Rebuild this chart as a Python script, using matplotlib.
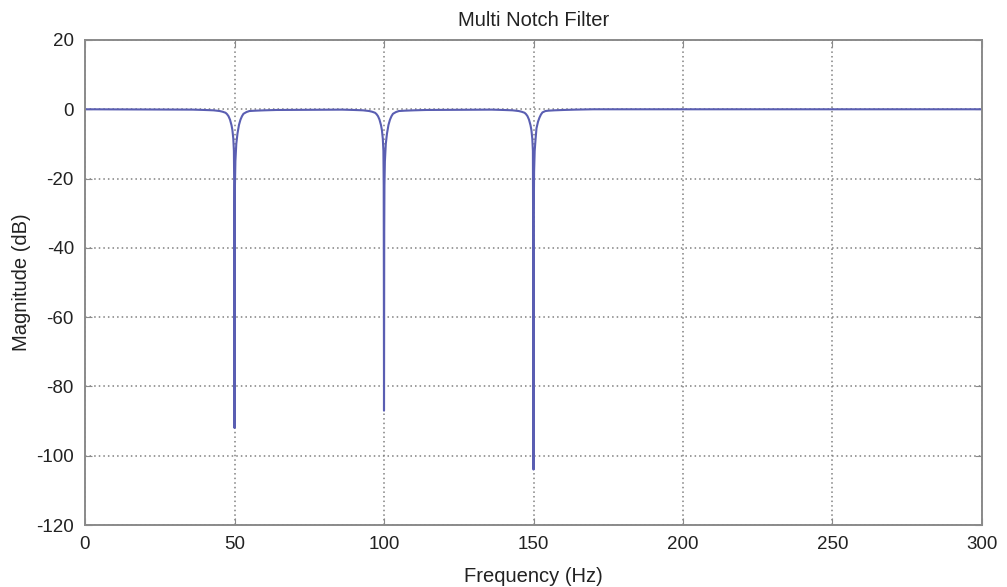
import matplotlib.pyplot as plt

plt.rcParams['font.family'] = ['Liberation Sans', 'DejaVu Sans']
plt.rcParams['axes.unicode_minus'] = False

# magnitude response (Hz, dB), one piece per notch
freq_50 = [0, 36, 40, 43, 45, 46, 47, 47.5, 48, 48.5, 49, 49.3, 49.6, 49.8, 49.9, 49.95, 50.0,
           50.03, 50.08, 50.15, 50.3, 50.6, 51, 51.5, 52, 52.5, 53, 54, 55, 57, 60, 64]
mag_50 = [0, -0.1, -0.2, -0.3, -0.5, -0.7, -1.0, -1.4, -2.0, -3.0, -4.6, -6.0, -8.5, -12, -22, -50, -92,
          -77, -35, -22, -15, -10, -7.0, -4.5, -3.0, -2.0, -1.3, -0.8, -0.5, -0.4, -0.3, -0.2]

freq_100 = [86, 90, 93, 95, 96, 97, 97.5, 98, 98.5, 99, 99.3, 99.6, 99.8, 99.9, 99.95, 100.0,
            100.03, 100.08, 100.15, 100.3, 100.6, 101, 101.5, 102, 102.5, 103, 104, 105, 107, 110, 114]
mag_100 = [-0.1, -0.2, -0.3, -0.5, -0.7, -1.0, -1.4, -2.0, -3.0, -4.6, -6.0, -8.5, -12, -22, -48, -87,
           -74, -35, -22, -15, -10, -7.0, -4.5, -3.0, -2.0, -1.3, -0.8, -0.5, -0.4, -0.3, -0.2]

freq_150 = [136, 140, 143, 145, 146, 147, 147.5, 148, 148.5, 149, 149.3, 149.6, 149.8, 149.9, 149.95,
            150.0, 150.02, 150.05, 150.1, 150.2, 150.4, 150.7, 151, 151.5, 152, 152.5, 153, 154, 155,
            157, 160, 164, 170, 300]
mag_150 = [-0.1, -0.2, -0.3, -0.5, -0.7, -1.0, -1.4, -2.0, -3.0, -4.6, -6.0, -8.5, -12, -44, -69,
           -104, -93, -56, -30, -18, -12, -8.5, -5.5, -3.6, -2.4, -1.5, -0.9, -0.5, -0.4,
           -0.3, -0.2, -0.1, 0, 0]

xticks = [0, 50, 100, 150, 200, 250, 300]
yticks = [20, 0, -20, -40, -60, -80, -100, -120]

freq = freq_50 + freq_100 + freq_150
mag = mag_50 + mag_100 + mag_150

fig = plt.figure(figsize=(10.07, 5.87), dpi=100)
ax = fig.add_axes([85 / 1007, 1 - 525 / 587, (982 - 85) / 1007, (525 - 40) / 587])

ax.plot(freq, mag, color='#5a5eb2', lw=1.5)

ax.set_xlim(0, 300)
ax.set_ylim(-120, 20)
ax.set_xticks(xticks)
ax.set_yticks(yticks)
ax.grid(True, color='#808080', linestyle=(0, (1, 2)), linewidth=1.1)

for s in ax.spines.values():
    s.set_color('#8a8a8a')
    s.set_linewidth(1.4)
ax.tick_params(direction='in', length=5, color='#8a8a8a', labelsize=13.5,
               labelcolor='#222222', pad=8, top=True, right=True)

ax.set_title('Multi Notch Filter', fontsize=14.5, color='#222222', pad=10)
ax.set_xlabel('Frequency (Hz)', fontsize=14.5, color='#222222', labelpad=10)
ax.set_ylabel('Magnitude (dB)', fontsize=14.5, color='#222222', labelpad=4)

fig.savefig('out.png', dpi=100)
